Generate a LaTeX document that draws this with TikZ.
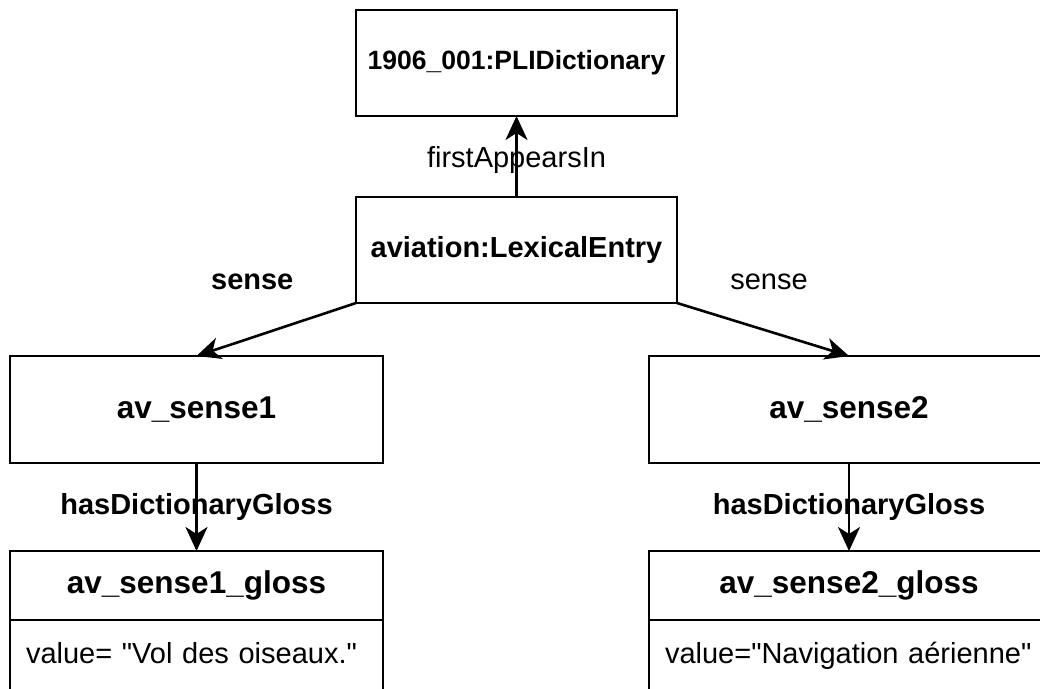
\documentclass[tikz,border=0pt]{standalone}
\usepackage{fontspec}
\setmainfont{Liberation Sans}
\usetikzlibrary{positioning,arrows.meta}

\begin{document}
\begin{tikzpicture}[
  x=1pt, y=-1pt,
  box/.style={draw, line width=2.6pt, inner sep=0pt, outer sep=0pt, align=center,
    font=\fontsize{31.5}{36}\selectfont\bfseries},
  topbox/.style={box, minimum width=321pt, minimum height=106pt},
  sensebox/.style={box, minimum height=107pt},
  glossbox/.style={box, minimum height=69pt},
  valbox/.style={draw, line width=2.6pt, outer sep=0pt, inner xsep=16pt, inner ysep=0pt,
    text height=43pt, text depth=60pt, align=left, font=\fontsize{29}{34}\selectfont},
  arr/.style={-{Stealth[length=24pt, width=22pt, inset=7pt]}, line width=2.6pt},
  note/.style={font=\fontsize{29}{34}\selectfont, midway},
  bnote/.style={note, font=\fontsize{29}{34}\selectfont\bfseries}
]
\useasboundingbox (0,0) rectangle (1040,688);
\clip (0,0) rectangle (1040,688);

% nodes
\node[topbox, font=\fontsize{26.5}{30}\selectfont\bfseries] (dict) at (516.5,63) {1906\_001:PLIDictionary};
\node[topbox, font=\fontsize{29}{34}\selectfont\bfseries] (lex) at (516.5,250) {aviation:LexicalEntry};
\node[sensebox, minimum width=373pt] (sense1) at (196.5,409.5) {av\_sense1};
\node[sensebox, minimum width=400pt] (sense2) at (849,409.5) {av\_sense2};
\node[glossbox, minimum width=373pt] (gloss1) at (196.5,585.5) {av\_sense1\_gloss};
\node[glossbox, minimum width=400pt] (gloss2) at (849,585.5) {av\_sense2\_gloss};
\node[valbox, text width=341pt, below=0pt of gloss1] (val1) {value= \textquotedbl Vol des oiseaux.\textquotedbl};
\node[valbox, text width=368pt, below=0pt of gloss2] (val2) {value=\textquotedbl Navigation aérienne\textquotedbl};

% arrows with labels
\draw[arr] (lex) -- node[note, yshift=-3pt] {firstAppearsIn} (dict);
\draw[arr] (lex.south west) -- node[bnote, xshift=-24pt, yshift=48pt] {sense} (sense1.north);
\draw[arr] (lex.south east) -- node[note, xshift=6pt, yshift=48pt] {sense} (sense2.north);
\draw[arr] (sense1) -- node[bnote] {hasDictionaryGloss} (gloss1);
\draw[arr] (sense2) -- node[bnote] {hasDictionaryGloss} (gloss2);

\end{tikzpicture}
\end{document}
